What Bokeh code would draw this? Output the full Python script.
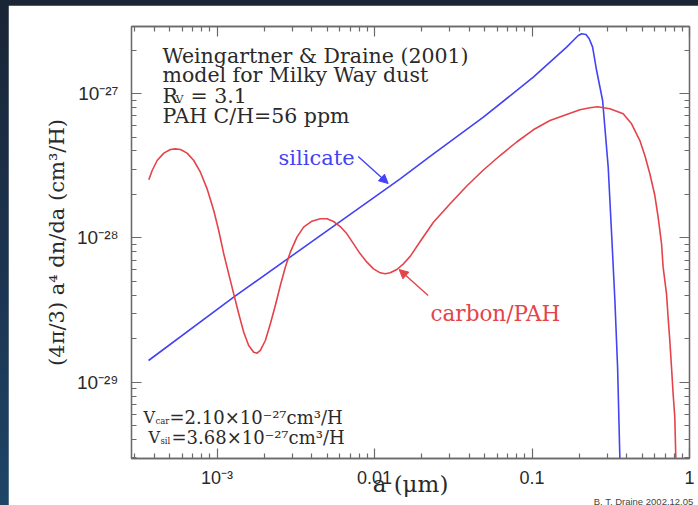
import json
import math
from bokeh.plotting import figure
from bokeh.models import (Range1d, LogAxis, FixedTicker, CustomJSTickFormatter,
                          Label, Arrow, NormalHead, Title)
from bokeh.layouts import column
from bokeh.embed import file_html
from bokeh.resources import INLINE

# ---------------- data ----------------
silicate_a = [3.67e-4, 1.274e-3, 1.454e-2, 2.365e-2, 4.909e-2, 0.1019, 0.130, 0.1659,
              0.1827, 0.1965, 0.2065, 0.2199, 0.2308, 0.2425, 0.2571, 0.2807, 0.3046,
              0.3201, 0.3359, 0.3494, 0.3613, 0.366]
silicate_v = [1.415e-29, 3.882e-29, 2.567e-28, 3.825e-28, 6.86e-28, 1.298e-27, 1.649e-27, 2.096e-27,
              2.331e-27, 2.525e-27, 2.594e-27, 2.566e-27, 2.394e-27, 2.096e-27, 1.444e-27, 8.95e-28, 3.09e-28,
              1.068e-28, 3.684e-29, 1.272e-29, 2.963e-30, 2.4e-30]

carbon_a = [3.685e-4, 3.869e-4, 4.162e-4, 4.587e-4, 5.055e-4, 5.437e-4, 5.852e-4, 6.451e-4,
            7.109e-4, 7.835e-4, 8.638e-4, 9.521e-4, 1.024e-3, 1.102e-3, 1.185e-3, 1.275e-3,
            1.372e-3, 1.476e-3, 1.587e-3, 1.708e-3, 1.793e-3, 1.882e-3, 2.025e-3, 2.179e-3,
            2.343e-3, 2.521e-3, 2.711e-3, 2.916e-3, 3.215e-3, 3.543e-3, 4.003e-3, 4.521e-3,
            4.984e-3, 5.491e-3, 6.053e-3, 6.674e-3, 7.356e-3, 8.109e-3, 8.940e-3, 9.849e-3,
            1.086e-2, 1.168e-2, 1.257e-2, 1.385e-2, 1.527e-2, 1.683e-2, 1.948e-2, 2.365e-2,
            3.018e-2, 3.851e-2, 4.909e-2, 6.262e-2, 7.99e-2, 0.1019, 0.130, 0.1659, 0.2014,
            0.2332, 0.2602, 0.3122, 0.3792, 0.4286, 0.4839, 0.5205, 0.5601, 0.6025, 0.6322,
            0.6645, 0.6800, 0.7146, 0.7313, 0.7499, 0.7686, 0.7870, 0.8066, 0.8187, 0.825]
carbon_v = [2.526e-28, 2.930e-28, 3.437e-28, 3.864e-28, 4.096e-28, 4.140e-28, 4.096e-28, 3.864e-28,
            3.437e-28, 2.853e-28, 2.187e-28, 1.548e-28, 1.125e-28, 7.757e-29, 5.638e-29, 4.097e-29,
            2.979e-29, 2.223e-29, 1.797e-29, 1.616e-29, 1.590e-29, 1.660e-29, 1.946e-29, 2.539e-29,
            3.401e-29, 4.680e-29, 6.269e-29, 7.964e-29, 1.012e-28, 1.187e-28, 1.306e-28, 1.356e-28,
            1.356e-28, 1.299e-28, 1.199e-28, 1.067e-28, 9.097e-29, 7.757e-29, 6.789e-29, 6.105e-29,
            5.728e-29, 5.638e-29, 5.728e-29, 6.040e-29, 6.613e-29, 7.45e-29, 9.44e-29, 1.285e-28,
            1.722e-28, 2.288e-28, 2.953e-28, 3.722e-28, 4.617e-28, 5.610e-28, 6.51e-28, 7.160e-28, 7.72e-28,
            7.965e-28, 8.093e-28, 7.840e-28, 7.24e-28, 6.17e-28, 4.727e-28, 3.722e-28, 2.780e-28, 1.966e-28,
            1.391e-28, 9.10e-29, 6.27e-29, 4.10e-29, 2.82e-29, 1.946e-29, 1.272e-29, 8.318e-30, 5.73e-30,
            2.963e-30, 2.4e-30]

x_tick_values = [1e-3, 1e-2, 1e-1, 1.0]
x_tick_labels = ["10⁻³", "0.01", "0.1", "1"]
y_tick_values = [1e-29, 1e-28, 1e-27]
y_tick_labels = ["10⁻²⁹", "10⁻²⁸", "10⁻²⁷"]

x_title = "a (μm)"
y_title = "(4π/3) a⁴ dn/da (cm³/H)"
info_lines = ["Weingartner & Draine (2001)", "model for Milky Way dust", "PAH C/H=56 ppm"]
credit = "B. T. Draine 2002.12.05"

# ---------------- styling ----------------
SERIF = "DejaVu Serif"
SANS = "Liberation Sans"
RED = "#e4434a"
BLUE = "#4343f4"
FRAME = "#6a6a6a"
TXT = "#2a2a2a"

p = figure(width=690, height=500, x_axis_type="log", y_axis_type="log",
           x_range=Range1d(2.86e-4, 1.0), y_range=Range1d(2.963e-30, 2.914e-27),
           output_backend="svg", toolbar_location=None,
           min_border_left=123, min_border_right=9, min_border_top=21, min_border_bottom=47)
p.background_fill_color = "white"
p.border_fill_color = "white"
p.outline_line_color = FRAME
p.outline_line_width = 1.3
p.xgrid.visible = False
p.ygrid.visible = False

minor_x = [m * 10.0 ** e for e in range(-4, 1) for m in range(2, 10)]
minor_y = [m * 10.0 ** e for e in range(-31, -26) for m in range(2, 10)]


def fmt(vals, labels):
    table = {str(round(math.log10(v))): l for v, l in zip(vals, labels)}
    return CustomJSTickFormatter(code="const m = %s; const k = Math.round(Math.log10(tick)); "
                                      "return (m[k] !== undefined) ? m[k] : '';" % json.dumps(table))


def style_axis(ax):
    ax.axis_line_color = FRAME
    ax.axis_line_width = 1.3
    ax.major_tick_line_color = FRAME
    ax.minor_tick_line_color = FRAME
    ax.major_tick_line_width = 1.2
    ax.minor_tick_line_width = 1.2
    ax.major_tick_in = 10
    ax.major_tick_out = 0
    ax.minor_tick_in = 5
    ax.minor_tick_out = 0


xt = FixedTicker(ticks=x_tick_values, minor_ticks=minor_x)
yt = FixedTicker(ticks=y_tick_values, minor_ticks=minor_y)

bx = p.xaxis[0]
bx.ticker = xt
bx.formatter = fmt(x_tick_values, x_tick_labels)
style_axis(bx)
bx.major_label_text_font = SANS
bx.major_label_text_font_size = "18px"
bx.major_label_text_color = TXT
bx.major_label_standoff = 9
bx.axis_label = x_title
bx.axis_label_text_font = SERIF
bx.axis_label_text_font_size = "23px"
bx.axis_label_text_font_style = "normal"
bx.axis_label_text_color = TXT
bx.axis_label_standoff = -20

ly = p.yaxis[0]
ly.ticker = yt
ly.formatter = fmt(y_tick_values, y_tick_labels)
style_axis(ly)
ly.major_label_text_font = SANS
ly.major_label_text_font_size = "19px"
ly.major_label_text_color = TXT
ly.major_label_standoff = 13
ly.axis_label = y_title
ly.axis_label_text_font = SERIF
ly.axis_label_text_font_size = "21px"
ly.axis_label_text_font_style = "normal"
ly.axis_label_text_color = TXT
ly.axis_label_standoff = 5

blank = CustomJSTickFormatter(code="return '';")
top = LogAxis(ticker=FixedTicker(ticks=x_tick_values, minor_ticks=minor_x), formatter=blank)
style_axis(top)
p.add_layout(top, "above")
right = LogAxis(ticker=FixedTicker(ticks=y_tick_values, minor_ticks=minor_y),
                formatter=CustomJSTickFormatter(code="return '';"))
style_axis(right)
p.add_layout(right, "right")

p.add_layout(Title(text=credit, align="right", text_font=SANS, text_font_size="9.5px",
                   text_font_style="normal", text_color="#444444", standoff=-15, offset=-4), "below")

# curves
p.line(silicate_a, silicate_v, line_color=BLUE, line_width=1.6, line_join="round")
p.line(carbon_a, carbon_v, line_color=RED, line_width=1.6, line_join="round")

# arrows pointing at the curves
p.add_layout(Arrow(x_start=7.87e-3, y_start=3.664e-28, x_end=1.22e-2, y_end=2.381e-28,
                   line_color=BLUE, line_width=1.4,
                   end=NormalHead(size=9, fill_color=BLUE, line_color=BLUE)))
p.add_layout(Arrow(x_start=2.189e-2, y_start=3.99e-29, x_end=1.433e-2, y_end=6.04e-29,
                   line_color=RED, line_width=1.4,
                   end=NormalHead(size=9, fill_color=RED, line_color=RED)))

# text labels inside the frame (positions in page pixels -> frame screen units)
FL, FB = 131, 458


def lab(text, px, py, size, color=TXT, font=SERIF, align="left"):
    p.add_layout(Label(x=px - FL, y=FB - py, x_units="screen", y_units="screen", text=text,
                       text_font=font, text_font_size=size, text_color=color,
                       text_align=align, text_baseline="alphabetic"))


lab(info_lines[0], 162, 55, "20.5px")
lab(info_lines[1], 162, 74, "20.5px")
lab("R", 162, 95, "20.5px")
lab("V", 175, 99, "11px")
lab("= 3.1", 190, 95, "20.5px")
lab(info_lines[2], 162, 115, "20.5px")

lab("silicate", 278, 157, "21px", color=BLUE)
lab("carbon/PAH", 430, 313, "21.5px", color=RED)

lab("V", 143, 417, "16px")
lab("car", 155, 420, "8.5px")
lab("=2.10×10⁻²⁷cm³/H", 169, 417, "18px")
lab("V", 148, 437, "16px")
lab("sil", 160, 440, "8.5px")
lab("=3.68×10⁻²⁷cm³/H", 171, 437, "18px")

root = column(p, styles={"background": "linear-gradient(180deg, #1a2535 0%, #1c3450 55%, #1e4566 100%)",
                         "padding-left": "8px", "padding-top": "5px"})

open("out.html", "w").write(file_html(root, INLINE))
